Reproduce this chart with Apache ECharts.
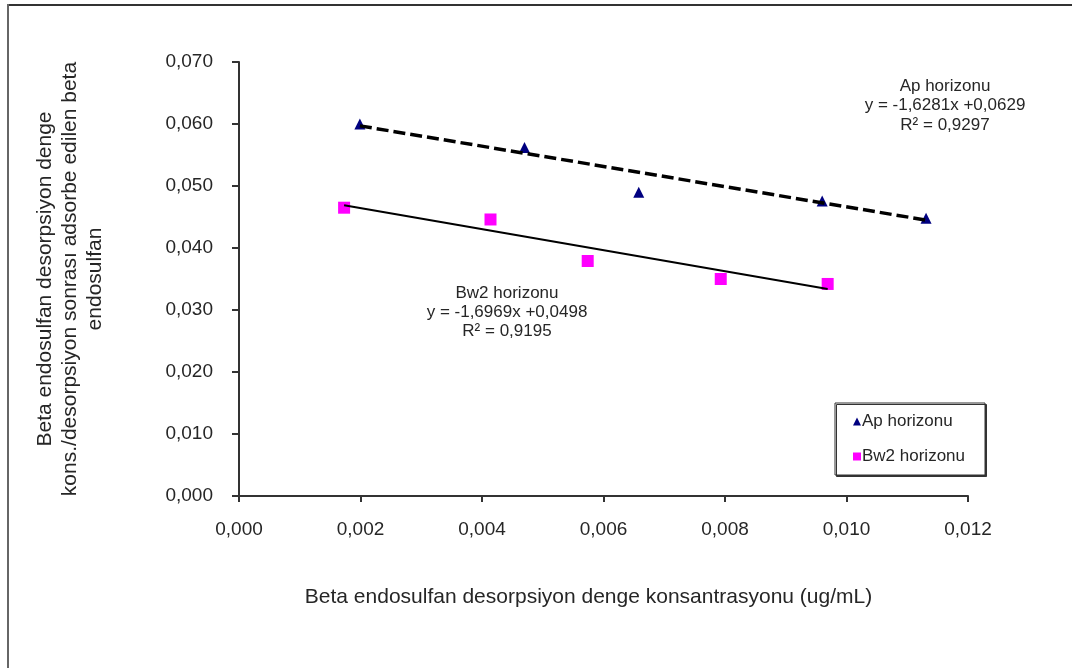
<!DOCTYPE html>
<html>
<head>
<meta charset="utf-8">
<script src="https://cdn.jsdelivr.net/npm/echarts@6/dist/echarts.min.js"></script>
<style>
html,body{margin:0;padding:0;background:#fff;}
#chart{width:1072px;height:668px;}
</style>
</head>
<body>
<div id="chart"></div>
<script>
// ---- data ----
const apName = 'Ap horizonu';
const bwName = 'Bw2 horizonu';
const apX = [0.00199, 0.00470, 0.00658, 0.00960, 0.01131];
const apY = [0.0600, 0.0562, 0.0490, 0.0476, 0.0448];
const bwX = [0.00173, 0.00414, 0.00574, 0.00793, 0.00969];
const bwY = [0.0465, 0.0446, 0.0379, 0.0350, 0.0342];
// trend line end points (as drawn)
const apTrendX = [0.00199, 0.01131];
const apTrendY = [0.0597, 0.0445];
const bwTrendX = [0.00173, 0.00969];
const bwTrendY = [0.0469, 0.0334];
const xTickLabels = ['0,000', '0,002', '0,004', '0,006', '0,008', '0,010', '0,012'];
const yTickLabels = ['0,000', '0,010', '0,020', '0,030', '0,040', '0,050', '0,060', '0,070'];
const apNote = ['Ap horizonu', 'y = -1,6281x +0,0629', 'R² = 0,9297'];
const bwNote = ['Bw2 horizonu', 'y = -1,6969x +0,0498', 'R² = 0,9195'];
const xTitle = 'Beta endosulfan desorpsiyon denge konsantrasyonu (ug/mL)';
const yTitleLines = ['Beta endosulfan desorpsiyon denge', 'kons./desorpsiyon sonrası adsorbe edilen beta', 'endosulfan'];

const zip = (a, b) => a.map((v, i) => [v, b[i]]);
const FONT = '"Liberation Sans", Arial, sans-serif';
const TXT = '#262626';

const chart = echarts.init(document.getElementById('chart'), null, {renderer: 'canvas'});

function noteTexts(lines, cx, ys) {
  return lines.map((t, i) => ({
    type: 'text', x: cx, y: ys[i], silent: true,
    style: {text: t, fill: TXT, font: '17px ' + FONT, align: 'center', verticalAlign: 'middle'}
  }));
}

const option = {
  backgroundColor: '#fff',
  animation: false,
  grid: {left: 239, top: 62, right: 104, bottom: 172, containLabel: false},
  xAxis: {
    type: 'value', min: 0, max: 0.012, interval: 0.002,
    name: xTitle, nameLocation: 'middle', nameGap: 91,
    nameTextStyle: {fontFamily: FONT, fontSize: 21, color: TXT, padding: [0, 30, 0, 0]},
    axisLine: {show: true, lineStyle: {color: '#333', width: 2}},
    axisTick: {show: true, inside: false, length: 6, lineStyle: {color: '#333', width: 2}},
    axisLabel: {margin: 24, fontFamily: FONT, fontSize: 19, color: TXT,
      formatter: v => xTickLabels[Math.round(v / 0.002)]},
    splitLine: {show: false}
  },
  yAxis: {
    type: 'value', min: 0, max: 0.07, interval: 0.01,
    name: yTitleLines.join('\n'), nameLocation: 'middle', nameGap: 131,
    nameTextStyle: {fontFamily: FONT, fontSize: 21, color: TXT, lineHeight: 25, align: 'center'},
    axisLine: {show: true, lineStyle: {color: '#333', width: 2}},
    axisTick: {show: true, inside: false, length: 7, lineStyle: {color: '#333', width: 2}},
    axisLabel: {margin: 26, fontFamily: FONT, fontSize: 19, color: TXT,
      formatter: v => yTickLabels[Math.round(v / 0.01)]},
    splitLine: {show: false}
  },
  legend: {
    orient: 'vertical', left: 835, top: 403,
    data: [{name: apName, icon: 'triangle'}, {name: bwName, icon: 'rect'}],
    itemWidth: 8, itemHeight: 8, itemGap: 18,
    padding: [10, 20, 10, 18],
    backgroundColor: '#fff', borderColor: '#333', borderWidth: 1, borderRadius: 0,
    shadowColor: '#333', shadowOffsetX: 1.5, shadowOffsetY: 1.5, shadowBlur: 0,
    textStyle: {fontFamily: FONT, fontSize: 17, color: TXT, padding: [0, 0, 0, -4]},
    selectedMode: false
  },
  series: [
    {name: apName, type: 'scatter', symbol: 'triangle', symbolSize: [11, 11],
     itemStyle: {color: '#000080', opacity: 1}, data: zip(apX, apY), z: 2},
    {name: bwName, type: 'scatter', symbol: 'rect', symbolSize: 12,
     itemStyle: {color: '#ff00ff', opacity: 1}, data: zip(bwX, bwY), z: 2},
    {name: 'apTrend', type: 'line', data: zip(apTrendX, apTrendY), showSymbol: false, symbol: 'none',
     lineStyle: {color: '#000', width: 3.5, type: [12, 5]}, z: 3, silent: true},
    {name: 'bwTrend', type: 'line', data: zip(bwTrendX, bwTrendY), showSymbol: false, symbol: 'none',
     lineStyle: {color: '#000', width: 2, type: 'solid'}, z: 3, silent: true}
  ],
  graphic: [
    {type: 'line', silent: true, shape: {x1: 7, y1: 5, x2: 1072, y2: 5}, style: {stroke: '#333', lineWidth: 2}},
    {type: 'line', silent: true, shape: {x1: 8, y1: 4, x2: 8, y2: 668}, style: {stroke: '#666', lineWidth: 2}},
    ...noteTexts(apNote, 945, [86, 105.5, 125]),
    ...noteTexts(bwNote, 507, [293, 312, 331])
  ]
};
chart.setOption(option);
</script>
</body>
</html>
